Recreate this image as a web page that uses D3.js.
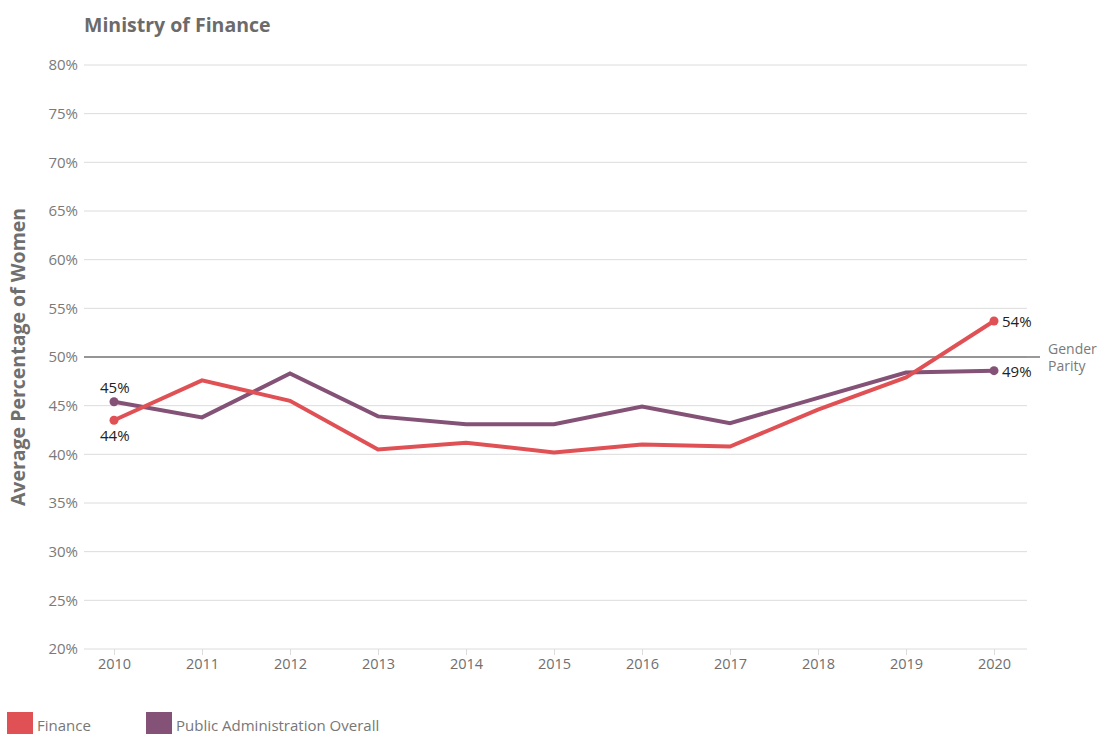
<!DOCTYPE html>
<html>
<head>
<meta charset="utf-8">
<script src="https://cdn.jsdelivr.net/npm/d3@7"></script>
<style>
  body { margin: 0; background: #fff; }
  svg { font-family: "Open Sans", sans-serif; }
</style>
</head>
<body>
<script>
// data
const years = [2010, 2011, 2012, 2013, 2014, 2015, 2016, 2017, 2018, 2019, 2020]
const finance = [43.5, 47.6, 45.5, 40.5, 41.2, 40.2, 41.0, 40.8, 44.6, 47.9, 53.7]
const publicAdmin = [45.4, 43.8, 48.3, 43.9, 43.1, 43.1, 44.9, 43.2, 45.8, 48.4, 48.6]
const yTicks = [20, 25, 30, 35, 40, 45, 50, 55, 60, 65, 70, 75, 80]
const parity = 50

const w = 1102
const h = 734
const padLeft = 84, padRight = 1027, padTop = 65, padBottom = 649

const svg = d3.select("body")
  .append("svg")
  .attr("width", w)
  .attr("height", h)

const xScale = d3.scalePoint()
  .domain(years)
  .range([114, 994])

const yScale = d3.scaleLinear()
  .domain([20, 80])
  .range([padBottom, padTop])

// grid lines
svg.append("g")
  .selectAll("line")
  .data(yTicks)
  .enter()
  .append("line")
  .attr("x1", padLeft)
  .attr("x2", padRight)
  .attr("y1", d => yScale(d))
  .attr("y2", d => yScale(d))
  .attr("stroke", "#dcdcdc")
  .attr("stroke-width", 1)

// y axis labels
const yAxis = d3.axisLeft(yScale)
  .tickValues(yTicks)
  .tickFormat(d => d + "%")
  .tickSize(0)
  .tickPadding(6)
svg.append("g")
  .attr("transform", "translate(" + padLeft + ",0)")
  .call(yAxis)
  .call(g => g.select(".domain").remove())
  .selectAll("text")
  .attr("font-size", 15)
  .attr("fill", "#7a7a7a")
  .attr("font-family", "Open Sans, sans-serif")

// x axis
const xAxis = d3.axisBottom(xScale)
  .tickSize(6)
  .tickPadding(4)
svg.append("g")
  .attr("transform", "translate(0," + padBottom + ")")
  .call(xAxis)
  .call(g => g.select(".domain").remove())
  .call(g => g.selectAll("line").attr("stroke", "#dcdcdc"))
  .selectAll("text")
  .attr("font-size", 14.5)
  .attr("fill", "#6f6f6f")
  .attr("font-family", "Open Sans, sans-serif")

// gender parity line
svg.append("line")
  .attr("x1", padLeft)
  .attr("x2", 1040)
  .attr("y1", yScale(parity))
  .attr("y2", yScale(parity))
  .attr("stroke", "#777")
  .attr("stroke-width", 1.5)

svg.append("text")
  .attr("x", 1048)
  .attr("y", yScale(parity) - 3)
  .attr("font-size", 14)
  .attr("fill", "#7a7a7a")
  .text("Gender")
svg.append("text")
  .attr("x", 1048)
  .attr("y", yScale(parity) + 14)
  .attr("font-size", 14)
  .attr("fill", "#7a7a7a")
  .text("Parity")

// lines
const line = d3.line()
  .x((d, i) => xScale(years[i]))
  .y(d => yScale(d))

const series = [
  { name: "Public Administration Overall", values: publicAdmin, color: "#855277" },
  { name: "Finance", values: finance, color: "#e05155" }
]

series.forEach(s => {
  svg.append("path")
    .datum(s.values)
    .attr("d", line)
    .attr("fill", "none")
    .attr("stroke", s.color)
    .attr("stroke-width", 4)
    .attr("stroke-linejoin", "miter")

  const ends = [0, s.values.length - 1]
  svg.selectAll(null)
    .data(ends)
    .enter()
    .append("circle")
    .attr("cx", i => xScale(years[i]))
    .attr("cy", i => yScale(s.values[i]))
    .attr("r", 4.5)
    .attr("fill", s.color)
})

// end labels
const fmt = v => Math.round(v) + "%"
svg.append("text")
  .attr("x", 100).attr("y", yScale(publicAdmin[0]) - 9)
  .attr("font-size", 15).attr("fill", "#222")
  .text(fmt(publicAdmin[0]))
svg.append("text")
  .attr("x", 100).attr("y", yScale(finance[0]) + 21)
  .attr("font-size", 15).attr("fill", "#222")
  .text(fmt(finance[0]))
svg.append("text")
  .attr("x", 1002).attr("y", yScale(finance[10]) + 6)
  .attr("font-size", 15).attr("fill", "#222")
  .text(fmt(finance[10]))
svg.append("text")
  .attr("x", 1002).attr("y", yScale(publicAdmin[10]) + 6)
  .attr("font-size", 15).attr("fill", "#222")
  .text(fmt(publicAdmin[10]))

// title
svg.append("text")
  .attr("x", 84)
  .attr("y", 32)
  .attr("font-size", 19.5)
  .attr("font-weight", "bold")
  .attr("fill", "#6b6b6b")
  .text("Ministry of Finance")

// y title
svg.append("text")
  .attr("transform", "translate(25," + yScale(parity) + ") rotate(-90)")
  .attr("text-anchor", "middle")
  .attr("font-size", 19.5)
  .attr("font-weight", "bold")
  .attr("fill", "#6f6f6f")
  .text("Average Percentage of Women")

// legend
const legend = [
  { name: "Finance", color: "#e05155", x: 7 },
  { name: "Public Administration Overall", color: "#855277", x: 146 }
]
legend.forEach(l => {
  svg.append("rect")
    .attr("x", l.x).attr("y", 712)
    .attr("width", 26).attr("height", 26)
    .attr("fill", l.color)
  svg.append("text")
    .attr("x", l.x + 30).attr("y", 731)
    .attr("font-size", 15)
    .attr("fill", "#777")
    .text(l.name)
})
</script>
</body>
</html>
